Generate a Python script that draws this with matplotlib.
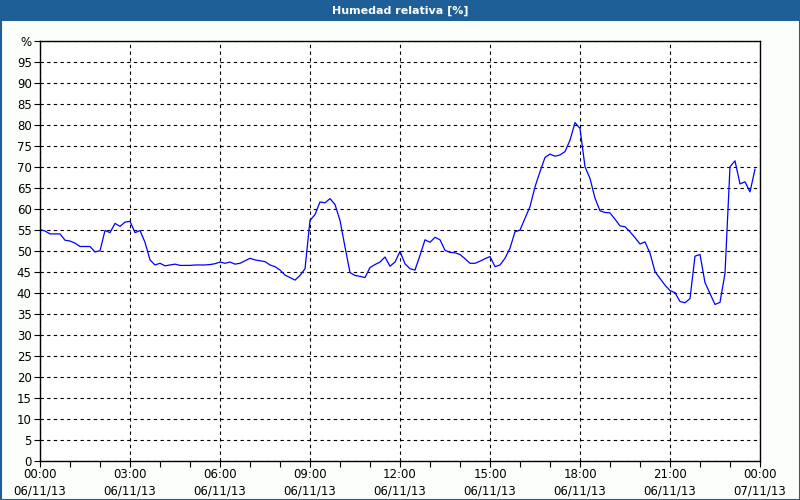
import numpy as np
import matplotlib.pyplot as plt
from matplotlib.patches import Rectangle
from matplotlib.ticker import MultipleLocator, FixedLocator

# datos: humedad cada 10 minutos (06/11/13)
minutos = np.arange(0, 1440, 10)
humedad = [
    55.0, 54.7, 54.0, 54.0, 54.0, 52.5, 52.3, 51.8, 51.0, 51.0,
    51.0, 49.7, 50.0, 54.8, 54.3, 56.5, 55.8, 56.8, 57.0, 54.3,
    54.8, 52.0, 47.8, 46.6, 47.0, 46.4, 46.6, 46.8, 46.5, 46.5,
    46.5, 46.6, 46.6, 46.6, 46.7, 46.9, 47.3, 47.0, 47.3, 46.8,
    47.0, 47.6, 48.2, 47.8, 47.6, 47.4, 46.6, 46.2,
    45.4, 44.2, 43.6, 43.0, 44.1, 45.7, 57.2, 58.6, 61.6, 61.4,
    62.4, 61.0, 57.2, 50.9, 44.8, 44.1, 43.9, 43.6, 46.0, 46.7,
    47.3, 48.5, 46.3, 47.3, 49.8, 46.9, 45.7, 45.4, 48.9, 52.6,
    52.0, 53.2, 52.6, 50.1, 49.6, 49.5, 49.1, 48.1, 47.0, 47.0,
    47.5, 48.1,
    48.6, 46.2, 46.6, 48.2, 50.6, 54.5, 54.9, 57.7, 60.5, 65.2,
    68.8, 72.2, 73.0, 72.5, 72.8, 73.6, 76.3, 80.5, 79.1, 70.0,
    67.2, 62.5, 59.5, 59.1, 59.0, 57.5, 55.9, 55.7, 54.5, 53.1,
    51.6, 52.1, 49.4, 45.0, 43.4, 41.8, 40.5, 40.0, 37.9, 37.6,
    38.6, 48.7, 49.1, 42.4, 39.8, 37.2, 37.7, 44.6, 70.0, 71.4,
    65.9, 66.4, 64.0, 69.4,
]
horas_ticks = [0, 3, 6, 9, 12, 15, 18, 21, 24]
etiquetas_x = ['00:00\n06/11/13', '03:00\n06/11/13', '06:00\n06/11/13',
               '09:00\n06/11/13', '12:00\n06/11/13', '15:00\n06/11/13',
               '18:00\n06/11/13', '21:00\n06/11/13', '00:00\n07/11/13']
titulo = 'Humedad relativa [%]'

azul = '#1d5f96'
fig = plt.figure(figsize=(8, 5), dpi=100, facecolor='#fbfefb')

# barra de titulo y borde
fig.patches.append(Rectangle((0, 1 - 21 / 500), 1, 21 / 500, transform=fig.transFigure,
                             facecolor=azul, edgecolor='none', zorder=0))
fig.patches.append(Rectangle((0.5 / 800, 0.5 / 500), 1 - 1 / 800, 1 - 1 / 500,
                             transform=fig.transFigure, facecolor='none',
                             edgecolor=azul, linewidth=1.5, zorder=0))
fig.text(0.5, 1 - 10.5 / 500, titulo, color='white', fontsize=8, fontweight='bold',
         ha='center', va='center')

ax = fig.add_axes([40 / 800, (500 - 460.7) / 500, 720 / 800, 420 / 500])
ax.set_facecolor('white')
ax.plot(minutos / 60.0, humedad, color='#0000ff', linewidth=0.9)

ax.set_xlim(0, 24)
ax.set_ylim(0, 100)
ax.xaxis.set_major_locator(FixedLocator(horas_ticks))
ax.set_xticklabels(etiquetas_x, linespacing=1.4)
ax.xaxis.set_minor_locator(MultipleLocator(1))
yt = np.arange(0, 101, 5)
ax.set_yticks(yt)
ax.set_yticklabels([str(v) for v in yt[:-1]] + ['%'])

ax.grid(True, which='major', color='black', linestyle=(0, (3, 3)), linewidth=0.8)
ax.tick_params(axis='both', which='major', labelsize=8.5, length=4, width=0.8,
               color='black', pad=2)
ax.tick_params(axis='x', which='minor', length=4, width=0.8)
ax.tick_params(axis='x', which='major', pad=1)
for s in ax.spines.values():
    s.set_linewidth(1.0)

fig.savefig('out.png', dpi=100, facecolor=fig.get_facecolor())
